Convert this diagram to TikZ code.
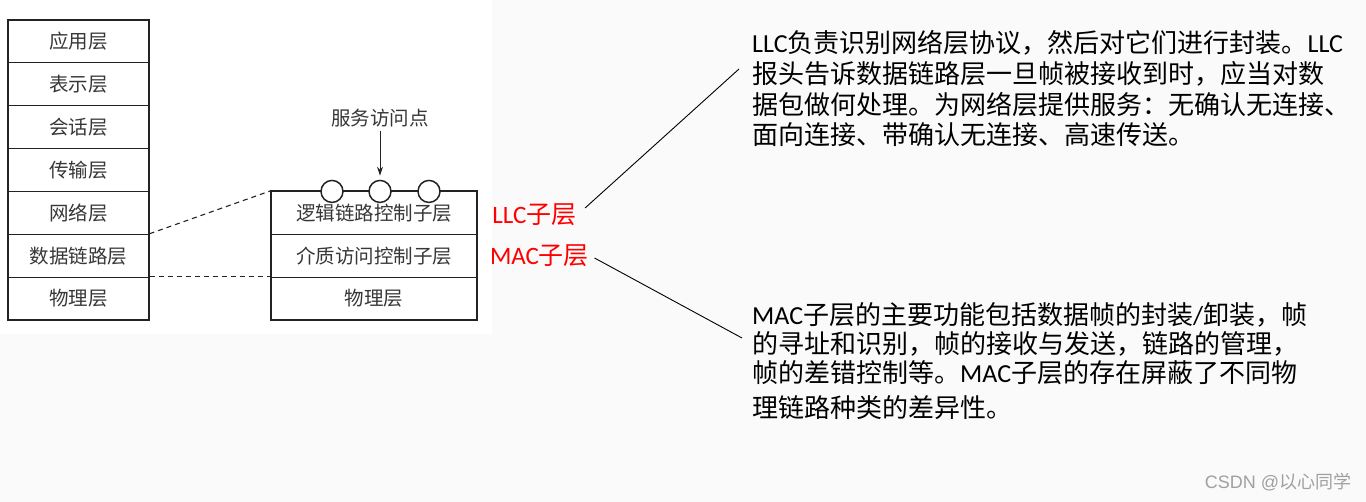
\documentclass[tikz,border=0pt]{standalone}
\usepackage{fontspec}
\setmainfont{Noto Sans CJK SC}
\newfontfamily\lat{Carlito}
\newfontfamily\wmfont{Liberation Sans}
\usetikzlibrary{arrows.meta}
\definecolor{bgc}{RGB}{250,250,250}
\definecolor{ink}{RGB}{35,35,35}
\definecolor{txt}{RGB}{55,55,55}
\definecolor{wmc}{RGB}{160,160,160}
\newcommand\La[1]{{\lat #1}}
\begin{document}
\begin{tikzpicture}[x=1pt,y=-1pt,
  layer/.style={draw=ink, line width=1.1pt, minimum width=141pt, minimum height=42.86pt,
    inner sep=0pt, font=\fontsize{19.5}{20}\selectfont, text=txt},
  sublayer/.style={layer, minimum width=206pt},
  outer/.style={draw=ink, line width=1.8pt},
  sap/.style={circle, draw=ink, fill=white, line width=1.5pt, minimum size=22pt, inner sep=0pt},
  lbl/.style={font=\fontsize{19.5}{20}\selectfont, text=txt},
  dashlink/.style={draw=ink, line width=1.1pt, dash pattern=on 5pt off 4pt},
  redlbl/.style={text=red, font=\fontsize{25}{26}\selectfont},
  leader/.style={draw=black, line width=0.9pt},
  para/.style={anchor=base west, text width=640pt, align=left, inner sep=0pt, text=black},
  wm/.style={text=wmc, font=\fontsize{18}{19}\selectfont}
]
\fill[bgc] (0,0) rectangle (1366,502);
\fill[white] (0,0) rectangle (492,334);
\useasboundingbox (0,0) rectangle (1366,502);

% left OSI stack
\node[layer] (l1) at (78.5,41.43) {应用层};
\node[layer] (l2) at (78.5,84.29) {表示层};
\node[layer] (l3) at (78.5,127.14) {会话层};
\node[layer] (l4) at (78.5,170) {传输层};
\node[layer] (l5) at (78.5,212.86) {网络层};
\node[layer] (l6) at (78.5,255.71) {数据链路层};
\node[layer] (l7) at (78.5,298.57) {物理层};
\draw[outer] (l1.north west) rectangle (l7.south east);

% middle stack
\node[sublayer] (m1) at (374,212.86) {逻辑链路控制子层};
\node[sublayer] (m2) at (374,255.71) {介质访问控制子层};
\node[sublayer] (m3) at (374,298.57) {物理层};
\draw[outer] (m1.north west) rectangle (m3.south east);

% service access points
\node[sap] (c1) at (332,191.43) {};
\node[sap] (c2) at (380,191.43) {};
\node[sap] (c3) at (429,191.43) {};
\node[lbl] (sapl) at (380,118) {服务访问点};
\draw[draw=ink, line width=1pt, -{Stealth[length=9pt,width=6pt]}, shorten >=4pt] (sapl.south) -- (c2.north);

% dashed links
\draw[dashlink] (l6.north east) -- (m1.north west);
\draw[dashlink] (l7.north east) -- (m3.north west);

% red labels
\node[redlbl] (llc) at (534.5,215) {\La{LLC}子层};
\node[redlbl] (mac) at (539.5,256) {\La{MAC}子层};

% paragraphs
\node[para, font=\fontsize{26}{30.6}\selectfont] (llct) at (752,53)
 {\La{LLC}负责识别网络层协议，然后对它们进行封装。\La{LLC}\\
  报头告诉数据链路层一旦帧被接收到时，应当对数\\
  据包做何处理。为网络层提供服务：无确认无连接、\\
  面向连接、带确认无连接、高速传送。};
\node[para, font=\fontsize{26}{29}\selectfont] (mact) at (752,325)
 {\La{MAC}子层的主要功能包括数据帧的封装\La{/}卸装，帧\\
  的寻址和识别，帧的接收与发送，链路的管理，\\
  帧的差错控制等。\La{MAC}子层的存在屏蔽了不同物\\[6pt]
  理链路种类的差异性。};

\coordinate (llcend) at (739,69);
\coordinate (macend) at (742,338);
\draw[leader] ([xshift=5pt,yshift=7pt]llc.east) -- (llcend);
\draw[leader] ([xshift=2pt,yshift=-2pt]mac.east) -- (macend);

% watermark
\node[wm] (wmk) at (1278,482) {{\wmfont CSDN @}以心同学};
\end{tikzpicture}
\end{document}
